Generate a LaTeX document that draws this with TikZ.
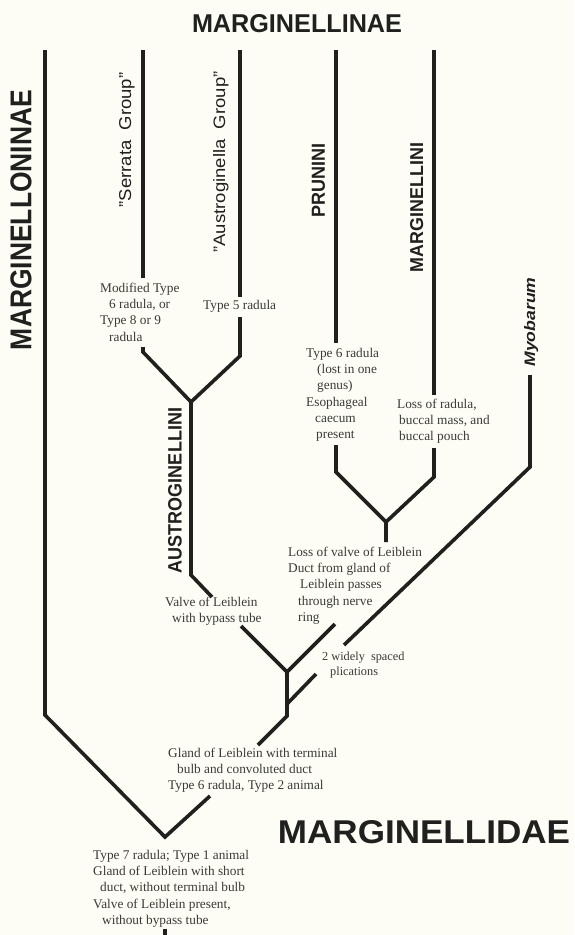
\documentclass[tikz,border=0pt]{standalone}
\usepackage{fontspec}
\setmainfont{Liberation Serif}
\setsansfont{Liberation Sans}
\usepackage{graphicx}
\definecolor{paper}{RGB}{253,253,246}
\definecolor{ink}{RGB}{32,32,30}
\definecolor{txt}{RGB}{58,58,54}
\newcommand\fitbox[3]{\resizebox{#1pt}{#2pt}{#3}}
\tikzset{
  branch/.style={draw=ink, line width=3.6pt, line join=miter, line cap=butt},
  note/.style={font=\fontsize{13.3}{16.2}\selectfont, text=txt, align=left, inner sep=0pt, anchor=north west},
  smallnote/.style={note, font=\fontsize{12.3}{15}\selectfont},
  tag/.style={text=ink, inner sep=0pt, rotate=90},
  title/.style={text=ink, inner sep=0pt},
}
\begin{document}
\begin{tikzpicture}[x=1pt,y=-1pt]
\fill[paper] (0,0) rectangle (574,935);
\useasboundingbox (0,0) rectangle (574,935);

% coordinates of the tree
\coordinate (mTop) at (45,50);
\coordinate (mBend) at (45,715);
\coordinate (root) at (165,837);
\coordinate (rootStub) at (165,929);
\coordinate (rootEnd) at (165,935);
\coordinate (gA) at (210,796);
\coordinate (gB) at (258,745);
\coordinate (gBend) at (287,716);
\coordinate (F1) at (287,672);
\coordinate (vA) at (241,626);
\coordinate (vB) at (212,597);
\coordinate (vBend) at (191,575);
\coordinate (F3) at (191,402);
\coordinate (sBend) at (143,352);
\coordinate (sLow) at (143,347);
\coordinate (sTop) at (143,50);
\coordinate (sEnd) at (143,278);
\coordinate (aBend) at (240,356);
\coordinate (aLow) at (240,317);
\coordinate (aTop) at (240,50);
\coordinate (aEnd) at (240,297);
\coordinate (lA) at (335,624);
\coordinate (lB) at (386,542);
\coordinate (F2) at (386,522);
\coordinate (pBend) at (336,472);
\coordinate (pLow) at (336,445);
\coordinate (pTop) at (336,50);
\coordinate (pEnd) at (336,343);
\coordinate (qBend) at (434,477);
\coordinate (qLow) at (434,448);
\coordinate (qTop) at (434,50);
\coordinate (qEnd) at (434,395);
\coordinate (yA) at (287,704);
\coordinate (yB) at (316,674);
\coordinate (yC) at (344,645);
\coordinate (yBend) at (530,467);
\coordinate (yTop) at (530,375);

% branches
\draw[branch] (mTop) -- (mBend) -- (root) -- (gA);
\draw[branch] (rootStub) -- (rootEnd);
\draw[branch] (gB) -- (gBend) -- (F1) -- (vA);
\draw[branch] (vB) -- (vBend) -- (F3) -- (sBend) -- (sLow);
\draw[branch] (sTop) -- (sEnd);
\draw[branch] (F3) -- (aBend) -- (aLow);
\draw[branch] (aTop) -- (aEnd);
\draw[branch] (F1) -- (lA);
\draw[branch] (lB) -- (F2) -- (pBend) -- (pLow);
\draw[branch] (F2) -- (qBend) -- (qLow);
\draw[branch] (pTop) -- (pEnd);
\draw[branch] (qTop) -- (qEnd);
\draw[branch] (yA) -- (yB);
\draw[branch] (yC) -- (yBend) -- (yTop);

% titles
\node[title, font=\sffamily\bfseries] (tInae) at (297,24) {\fitbox{210}{18}{MARGINELLINAE}};
\node[title, font=\sffamily\bfseries] (tIdae) at (424,832) {\fitbox{292}{23}{MARGINELLIDAE}};
\node[tag, font=\sffamily\bfseries] (tOninae) at (21,220) {\fitbox{260}{21}{MARGINELLONINAE}};

% clade labels
\node[tag, font=\sffamily, anchor=base] (tSerrata) at (131,140) {\fitbox{135}{12}{"Serrata\ \ Group"}};
\node[tag, font=\sffamily, anchor=base] (tAustro) at (225,162) {\fitbox{181}{12}{"Austroginella\ \ Group"}};
\node[tag, font=\sffamily\bfseries] (tPrunini) at (318.5,180) {\fitbox{74}{13}{PRUNINI}};
\node[tag, font=\sffamily\bfseries] (tMarginellini) at (416.7,207.5) {\fitbox{129}{13}{MARGINELLINI}};
\node[tag, font=\sffamily\bfseries\itshape, anchor=base] (tMyo) at (535,322) {\fitbox{89}{11}{Myobarum}};
\node[tag, font=\sffamily\bfseries] (tAustrini) at (175,490.5) {\fitbox{165}{13.5}{AUSTROGINELLINI}};

% character notes
\node[note] (nSerrata) at (100,283) {Modified Type\\\hspace*{9pt}6 radula, or\\Type 8 or 9\\\hspace*{9pt}radula};
\node[note] (nType5) at (203,300) {Type 5 radula};
\node[note] (nPrunini) at (306,348) {Type 6 radula\\\hspace*{11pt}(lost in one\\\hspace*{11pt}genus)\\Esophageal\\\hspace*{9pt}caecum\\\hspace*{10pt}present};
\node[note] (nMarg) at (397,399) {Loss of radula,\\\hspace*{2pt}buccal mass, and\\\hspace*{2pt}buccal pouch};
\node[note] (nLoss) at (288,547) {Loss of valve of Leiblein\\Duct from gland of\\\hspace*{12pt}Leiblein passes\\\hspace*{10pt}through nerve\\\hspace*{10pt}ring};
\node[note] (nValve) at (165,597) {Valve of Leiblein\\\hspace*{7pt}with bypass tube};
\node[smallnote] (nPlic) at (322,652) {2 widely\ \ spaced\\\hspace*{8pt}plications};
\node[note] (nGland) at (168,748) {Gland of Leiblein with terminal\\\hspace*{9pt}bulb and convoluted duct\\Type 6 radula, Type 2 animal};
\node[note] (nRoot) at (93,850) {Type 7 radula; Type 1 animal\\Gland of Leiblein with short\\\hspace*{7pt}duct, without terminal bulb\\Valve of Leiblein present,\\\hspace*{9pt}without bypass tube};
\end{tikzpicture}
\end{document}
